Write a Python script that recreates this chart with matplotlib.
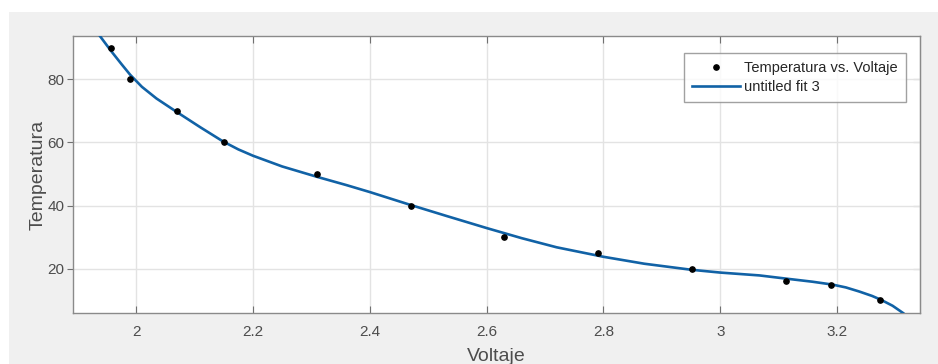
import matplotlib.pyplot as plt
import matplotlib.patches as patches

# measured points
voltaje = [1.957, 1.99, 2.07, 2.15, 2.31, 2.47, 2.63, 2.79, 2.952, 3.112, 3.19, 3.273]
temperatura = [90, 80, 70, 60, 50, 40, 30, 25, 20, 16, 15, 10]

# fit curve
fit_v = [1.934, 1.957, 1.975, 1.99, 2.01, 2.035, 2.07, 2.11, 2.149, 2.175,
         2.20, 2.25, 2.31, 2.36, 2.40, 2.47, 2.53, 2.60, 2.66, 2.72, 2.80,
         2.87, 2.95, 3.00, 3.067, 3.112, 3.158, 3.192, 3.215, 3.238, 3.26,
         3.275, 3.295, 3.313]
fit_t = [94.7, 89.0, 84.8, 81.4, 77.6, 73.9, 69.6, 64.8, 60.3, 57.8,
         55.8, 52.4, 49.1, 46.5, 44.3, 40.2, 36.8, 32.9, 29.7, 26.8, 23.8,
         21.6, 19.7, 18.8, 17.9, 16.9, 15.9, 15.0, 14.1, 12.8, 11.4,
         10.2, 8.3, 6.0]

xticks = [2, 2.2, 2.4, 2.6, 2.8, 3, 3.2]
xticklabels = ['2', '2.2', '2.4', '2.6', '2.8', '3', '3.2']
yticks = [20, 40, 60, 80]

plt.rcParams['font.family'] = ['Liberation Sans', 'DejaVu Sans']

fig = plt.figure(figsize=(9.38, 3.64), dpi=100)
fig.patch.set_facecolor('white')
# gray panel (white margin on top and left)
fig.patches.append(patches.Rectangle((9 / 938, 0), 1, (364 - 12) / 364,
                                     transform=fig.transFigure, facecolor='#f0f0f0',
                                     edgecolor='none', zorder=-10))

ax = fig.add_axes([73 / 938, 51 / 364, 847 / 938, 277 / 364])
ax.set_facecolor('white')

ax.plot(voltaje, temperatura, 'o', color='black', markersize=3.8,
        label='Temperatura vs. Voltaje', zorder=4)
ax.plot(fit_v, fit_t, '-', color='#1162a6', linewidth=1.9,
        label='untitled fit 3', zorder=3)

ax.set_xlim(1.892, 3.342)
ax.set_ylim(6, 93.7)
ax.set_xticks(xticks)
ax.set_xticklabels(xticklabels)
ax.set_yticks(yticks)

ax.grid(True, color='#e3e3e3', linewidth=1.0)
ax.set_axisbelow(True)

for s in ax.spines.values():
    s.set_color('#8a8a8a')
    s.set_linewidth(1.0)

ax.tick_params(axis='x', direction='in', length=5, color='#707070',
               labelcolor='#4d4d4d', labelsize=11, top=True, pad=9)
ax.tick_params(axis='y', direction='out', length=4, color='#707070',
               labelcolor='#4d4d4d', labelsize=11, pad=2)

sec = ax.secondary_yaxis('right')
sec.set_yticks(yticks)
sec.tick_params(direction='in', length=5, color='#707070', labelright=False)
sec.spines['right'].set_color('#8a8a8a')

ax.set_xlabel('Voltaje', fontsize=14, color='#4d4d4d', labelpad=6)
ax.set_ylabel('Temperatura', fontsize=14, color='#4d4d4d', labelpad=1)

leg = ax.legend(loc='upper right', bbox_to_anchor=(0.984, 0.94), fontsize=10.5,
                frameon=True, fancybox=False, handlelength=3.3,
                borderpad=0.6, labelspacing=0.3, handletextpad=0.25,
                borderaxespad=0)
leg.get_frame().set_edgecolor('#8a8a8a')
leg.get_frame().set_linewidth(1.0)
for t in leg.get_texts():
    t.set_color('#262626')

fig.savefig('out.png', dpi=100, facecolor=fig.get_facecolor())
